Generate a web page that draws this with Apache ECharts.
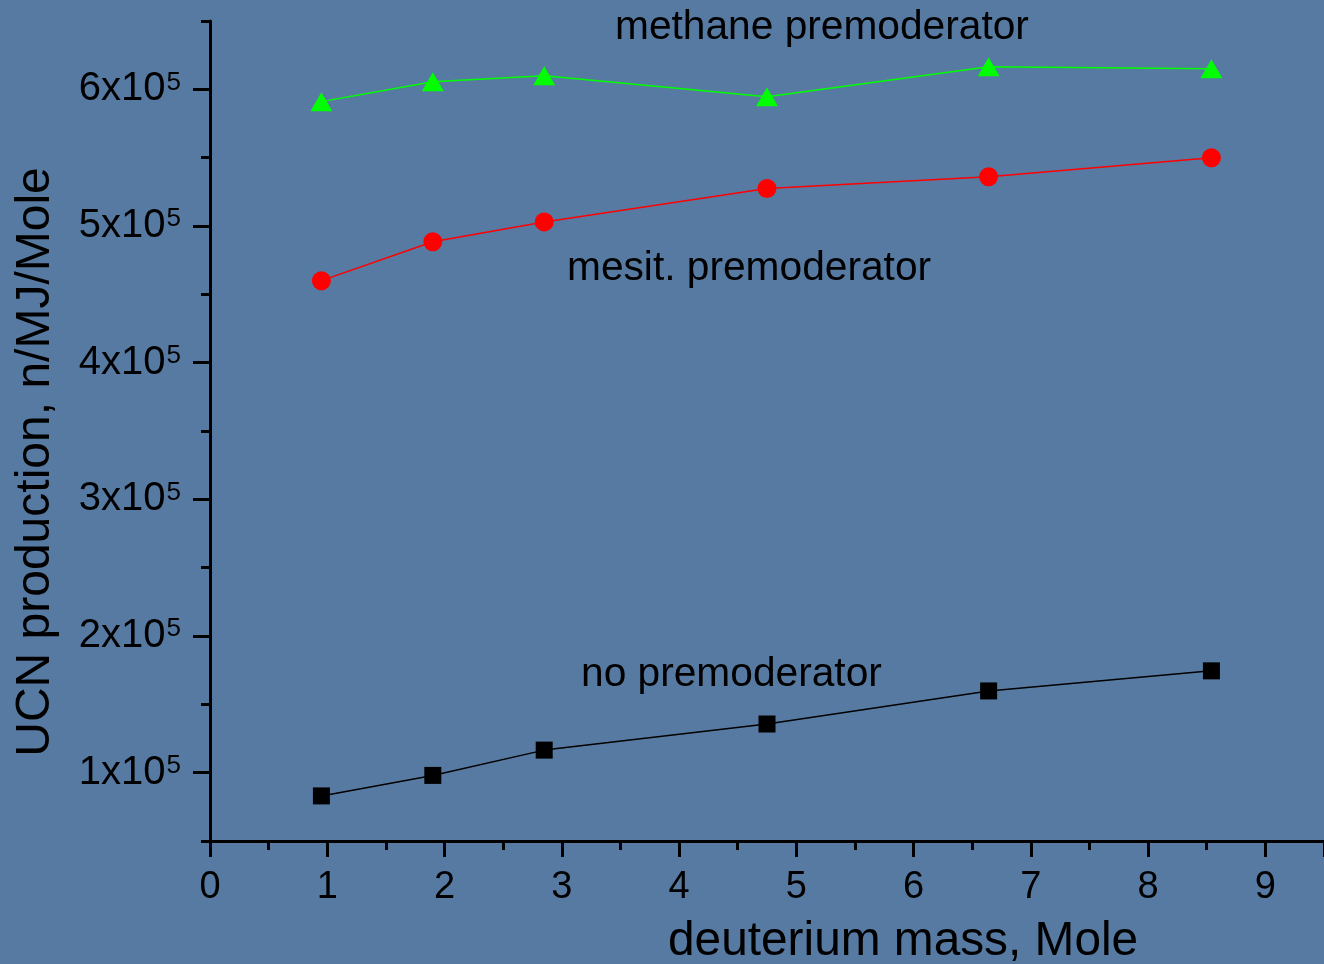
<!DOCTYPE html>
<html>
<head>
<meta charset="utf-8">
<script src="https://cdn.jsdelivr.net/npm/echarts@6/dist/echarts.min.js"></script>
<style>
  html, body { margin: 0; padding: 0; background: #577aa2; }
  #chart { width: 1324px; height: 964px; }
</style>
</head>
<body>
<div id="chart"></div>
<script>
// ---- data ----
const deuteriumMass = [0.95, 1.9, 2.85, 4.75, 6.64, 8.54];
const noPremod      = [0.83e5, 0.98e5, 1.165e5, 1.356e5, 1.598e5, 1.745e5];
const mesitPremod   = [4.60e5, 4.885e5, 5.03e5, 5.275e5, 5.36e5, 5.50e5];
const methanePremod = [5.91e5, 6.055e5, 6.10e5, 5.945e5, 6.165e5, 6.15e5];
const yTickValues   = [1e5, 2e5, 3e5, 4e5, 5e5, 6e5];
const xTickLabels   = ['0','1','2','3','4','5','6','7','8','9'];

const pairs = ys => deuteriumMass.map((x, i) => [x, ys[i]]);
const font = 'Liberation Sans, Arial, sans-serif';

const chart = echarts.init(document.getElementById('chart'), null, { renderer: 'canvas' });
chart.setOption({
  backgroundColor: 'transparent',
  animation: false,
  grid: { left: 210, top: 21, width: 1117, height: 820 },
  xAxis: {
    type: 'value', min: 0, max: 9.5, interval: 1,
    axisLine: { lineStyle: { color: '#000', width: 3 } },
    axisTick: { length: 16, lineStyle: { color: '#000', width: 3 } },
    minorTick: { show: true, splitNumber: 2, length: 9, lineStyle: { color: '#000', width: 3 } },
    splitLine: { show: false },
    axisLabel: {
      margin: 28, color: '#000', fontSize: 38, fontFamily: font,
      showMaxLabel: false,
      formatter: v => (Number.isInteger(v) && v >= 0 && v <= 9) ? xTickLabels[v] : ''
    }
  },
  yAxis: [{
    type: 'value', min: 0.5e5, max: 6.5e5, interval: 0.5e5,
    axisLine: { show: true, lineStyle: { color: '#000', width: 3 } },
    axisTick: { show: true, length: 17, customValues: yTickValues, lineStyle: { color: '#000', width: 3 } },
    splitLine: { show: false },
    axisLabel: {
      margin: 29, color: '#000', fontFamily: font,
      customValues: yTickValues,
      formatter: v => '{base|' + (v / 1e5) + 'x10}{sup|5}',
      rich: {
        base: { fontSize: 40, fontFamily: font, color: '#000', lineHeight: 40, verticalAlign: 'middle' },
        sup: { fontSize: 26, fontFamily: font, color: '#000', lineHeight: 18, verticalAlign: 'top', padding: [0, 0, 0, 1] }
      }
    }
  }, {
    type: 'value', min: 0.5e5, max: 6.5e5, interval: 0.5e5, position: 'left',
    axisLine: { show: false },
    axisTick: { show: true, length: 9, lineStyle: { color: '#000', width: 3 } },
    axisLabel: { show: false },
    splitLine: { show: false }
  }],
  series: [
    { type: 'line', name: 'no premoderator', data: pairs(noPremod),
      symbol: 'rect', symbolSize: 17, itemStyle: { color: '#000' },
      lineStyle: { color: '#000', width: 1.5 } },
    { type: 'line', name: 'mesit. premoderator', data: pairs(mesitPremod),
      symbol: 'circle', symbolSize: 19, itemStyle: { color: '#ff0000' },
      lineStyle: { color: '#ff0000', width: 1.5 } },
    { type: 'line', name: 'methane premoderator', data: pairs(methanePremod),
      symbol: 'triangle', symbolSize: [22, 19], itemStyle: { color: '#00ff00' },
      lineStyle: { color: '#00ff00', width: 1.5 } }
  ],
  graphic: [
    { type: 'text', left: 615, top: 7, style: { text: 'methane premoderator', fontSize: 40.7, fontFamily: font, fill: '#000' } },
    { type: 'text', left: 567, top: 248, style: { text: 'mesit. premoderator', fontSize: 40.7, fontFamily: font, fill: '#000' } },
    { type: 'text', left: 581, top: 654, style: { text: 'no premoderator', fontSize: 40.7, fontFamily: font, fill: '#000' } },
    { type: 'text', left: 668, top: 918, style: { text: 'deuterium mass, Mole', fontSize: 47.8, fontFamily: font, fill: '#000' } },
    { type: 'text', x: 36, y: 462, rotation: Math.PI / 2,
      style: { text: 'UCN production, n/MJ/Mole', fontSize: 48, fontFamily: font, fill: '#000', align: 'center', verticalAlign: 'middle' } }
  ]
});
</script>
</body>
</html>
